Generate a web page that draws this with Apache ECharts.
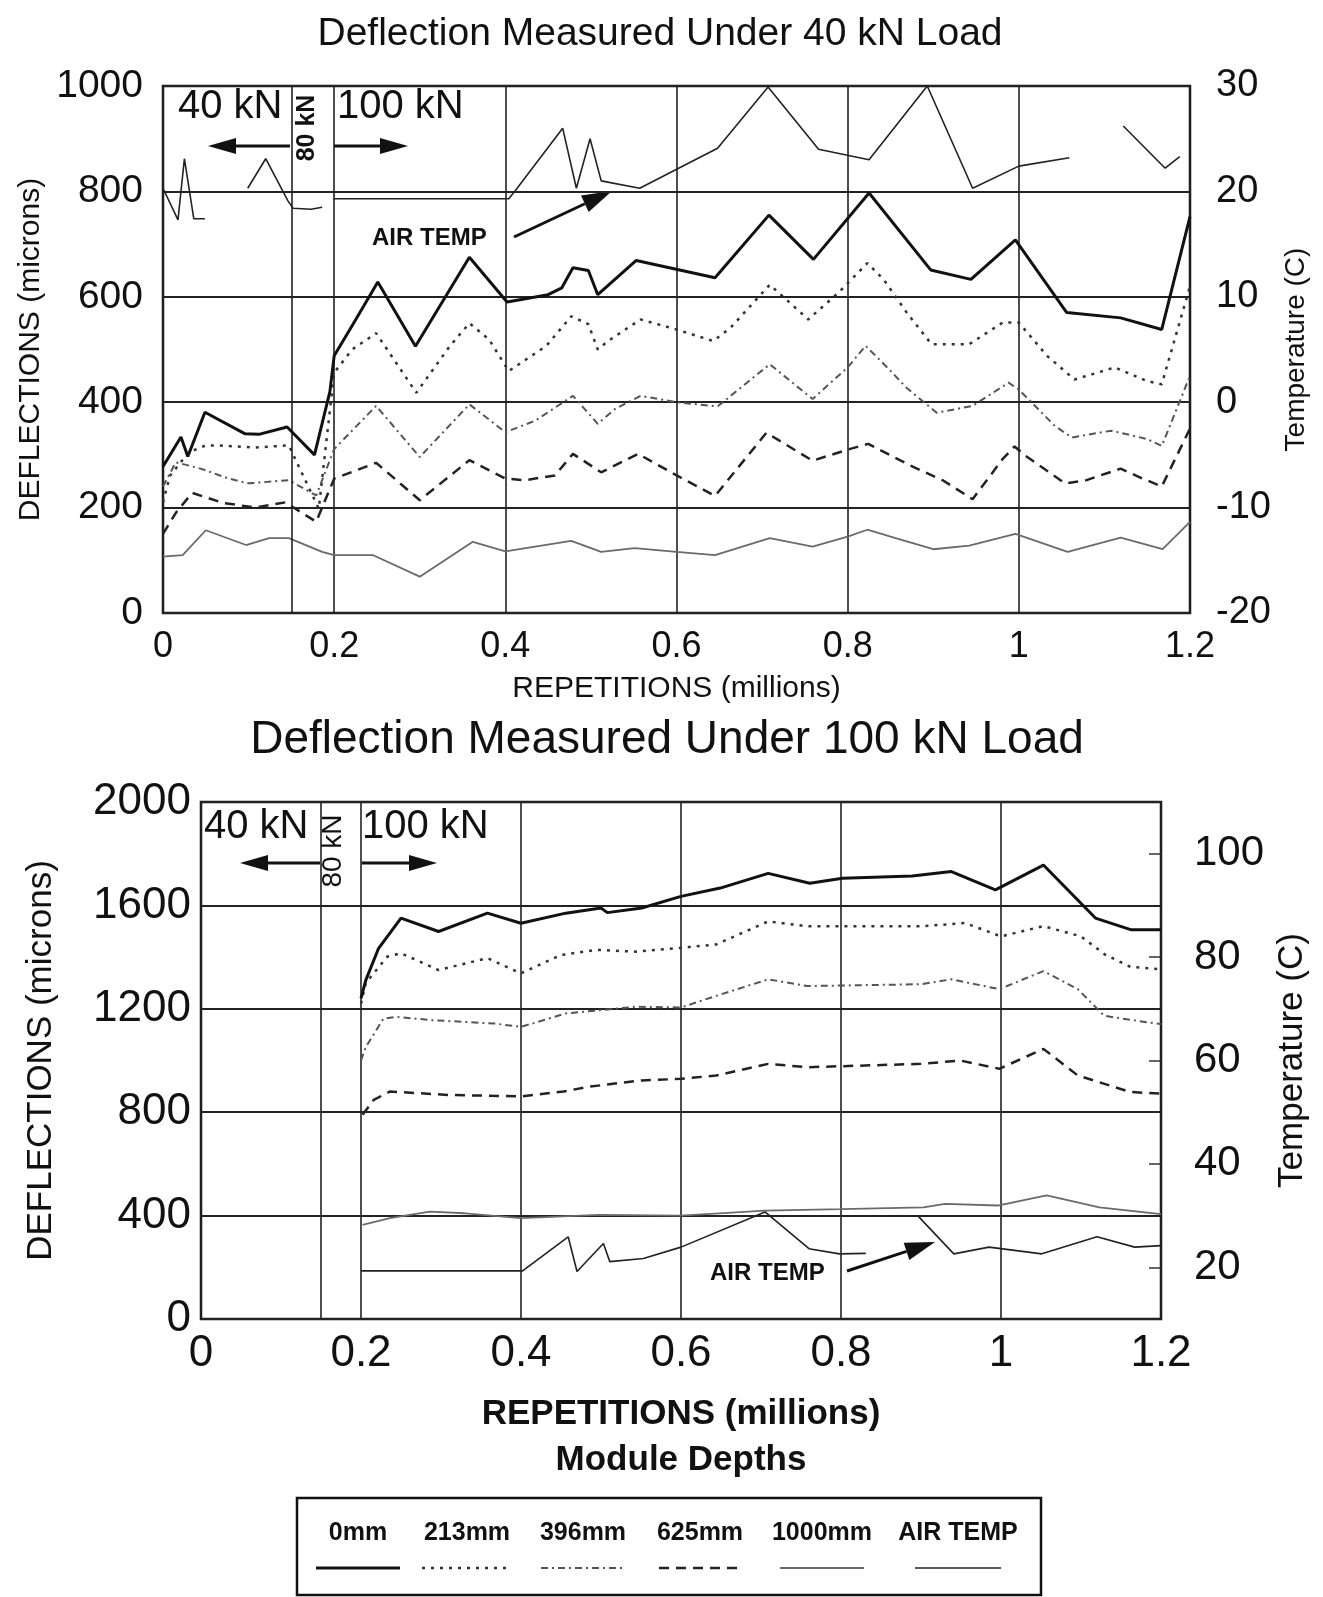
<!DOCTYPE html>
<html>
<head>
<meta charset="utf-8">
<title>Deflection vs Repetitions</title>
<script src="https://cdn.jsdelivr.net/npm/echarts@6/dist/echarts.min.js"></script>
<style>
  html, body { margin: 0; padding: 0; background: #fff; }
  #main { width: 1323px; height: 1597px; }
</style>
</head>
<body>
<div id="main"></div>
<script>
// shared
var loadBoundary = 0.15;   // 80 kN band begins, 100 kN at 0.2
var seriesNames = ['0mm', '213mm', '396mm', '625mm', '1000mm', 'AIR TEMP'];

// top chart: deflection under 40 kN load, [repetitions (millions), microns]
var top0mm = [[0,278],[0.021,334],[0.029,297],[0.049,381],[0.096,340],[0.112,339],[0.145,353],[0.177,300],[0.195,420],[0.2,488],[0.222,548],[0.251,628],[0.295,506],[0.358,675],[0.402,590],[0.45,604],[0.466,617],[0.479,655],[0.497,650],[0.508,604],[0.553,669],[0.645,636],[0.708,755],[0.76,671],[0.825,797],[0.897,651],[0.944,633],[0.996,708],[1.056,570],[1.119,560],[1.167,538],[1.2,752]];
var top213mm = [[0,210],[0.008,260],[0.03,305],[0.05,318],[0.062,318],[0.108,314],[0.147,318],[0.182,198],[0.2,456],[0.221,500],[0.249,531],[0.296,418],[0.335,506],[0.358,550],[0.381,519],[0.404,459],[0.448,507],[0.477,563],[0.497,548],[0.508,500],[0.52,516],[0.558,557],[0.6,538],[0.643,516],[0.663,541],[0.709,623],[0.754,557],[0.79,609],[0.823,664],[0.842,633],[0.869,570],[0.898,510],[0.942,510],[0.981,551],[1.0,551],[1.033,488],[1.065,443],[1.112,466],[1.15,440],[1.167,434],[1.2,620]];
var top396mm = [[0,240],[0.015,286],[0.044,274],[0.077,255],[0.1,246],[0.147,252],[0.179,223],[0.2,311],[0.249,393],[0.3,296],[0.358,396],[0.4,343],[0.435,365],[0.479,412],[0.508,359],[0.528,387],[0.558,412],[0.6,400],[0.648,392],[0.709,472],[0.759,406],[0.8,466],[0.821,507],[0.848,463],[0.869,427],[0.904,380],[0.946,393],[0.988,437],[1.0,424],[1.042,355],[1.062,333],[1.108,346],[1.15,330],[1.167,317],[1.2,450]];
var top625mm = [[0,150],[0.015,190],[0.034,228],[0.07,209],[0.108,200],[0.143,210],[0.179,173],[0.2,255],[0.249,285],[0.3,214],[0.358,290],[0.4,255],[0.423,252],[0.458,261],[0.479,302],[0.512,267],[0.555,302],[0.597,264],[0.645,222],[0.705,342],[0.759,289],[0.8,310],[0.824,321],[0.873,280],[0.912,251],[0.946,216],[0.981,292],[0.995,316],[1.008,298],[1.054,246],[1.077,251],[1.119,274],[1.142,257],[1.167,240],[1.2,350]];
var top1000mm = [[0,107],[0.023,110],[0.05,157],[0.097,129],[0.124,142],[0.147,142],[0.186,116],[0.2,110],[0.245,110],[0.3,69],[0.362,135],[0.4,117],[0.477,137],[0.512,116],[0.551,123],[0.6,116],[0.645,110],[0.709,142],[0.759,126],[0.8,145],[0.823,158],[0.856,142],[0.9,121],[0.942,128],[0.996,150],[1.057,116],[1.119,143],[1.168,121],[1.2,173]];
// air temperature, deg C (null = gap in record)
var topAirTemp = [[0,20.3],[0.0175,17.3],[0.025,23.1],[0.036,17.4],[0.049,17.4],[0.07,null],[0.099,20.3],[0.12,23.1],[0.146,19.1],[0.152,18.4],[0.173,18.3],[0.186,18.5],[0.193,null],[0.199,19.3],[0.404,19.3],[0.412,20.1],[0.467,26],[0.483,20.3],[0.499,25],[0.512,21],[0.557,20.3],[0.648,24.1],[0.707,29.9],[0.766,24],[0.825,23],[0.893,30],[0.946,20.3],[1.0,22.4],[1.059,23.2],[1.09,null],[1.122,26.2],[1.171,22.2],[1.188,23.3]];

// bottom chart: deflection under 100 kN load
var bot0mm = [[0.2,1240],[0.206,1311],[0.222,1434],[0.25,1551],[0.297,1499],[0.358,1570],[0.4,1531],[0.456,1570],[0.5,1590],[0.508,1572],[0.551,1590],[0.6,1635],[0.649,1667],[0.709,1724],[0.761,1686],[0.802,1705],[0.889,1714],[0.938,1731],[0.993,1660],[1.053,1756],[1.118,1551],[1.162,1506],[1.2,1506]];
var bot213mm = [[0.2,1220],[0.206,1300],[0.233,1402],[0.25,1415],[0.297,1350],[0.358,1396],[0.4,1337],[0.45,1408],[0.494,1428],[0.544,1421],[0.6,1436],[0.644,1449],[0.709,1538],[0.758,1519],[0.9,1519],[0.955,1532],[1.0,1480],[1.053,1520],[1.1,1480],[1.13,1410],[1.162,1362],[1.2,1353]];
var bot396mm = [[0.2,1000],[0.206,1052],[0.228,1162],[0.244,1169],[0.289,1156],[0.367,1143],[0.4,1130],[0.456,1182],[0.544,1208],[0.6,1205],[0.644,1250],[0.709,1314],[0.758,1288],[0.9,1295],[0.938,1314],[0.998,1276],[1.053,1346],[1.096,1276],[1.129,1173],[1.184,1147],[1.2,1141]];
var bot625mm = [[0.202,790],[0.216,848],[0.236,880],[0.308,867],[0.4,861],[0.453,880],[0.486,899],[0.551,923],[0.6,929],[0.644,942],[0.709,987],[0.758,974],[0.9,987],[0.949,1000],[0.998,968],[1.053,1045],[1.096,942],[1.162,878],[1.2,872]];
var bot1000mm = [[0.202,364],[0.236,390],[0.286,415],[0.33,409],[0.4,390],[0.497,403],[0.6,400],[0.705,419],[0.8,425],[0.903,432],[0.93,445],[0.996,439],[1.057,478],[1.123,432],[1.2,406]];
var botAirTemp = [[0.2,19.3],[0.402,19.3],[0.459,25.9],[0.47,19.2],[0.503,24.6],[0.511,21.1],[0.553,21.7],[0.6,23.9],[0.705,30.7],[0.76,23.6],[0.798,22.6],[0.831,22.7],[0.86,null],[0.897,29.8],[0.941,22.6],[0.985,23.9],[1.051,22.6],[1.12,25.9],[1.167,23.9],[1.2,24.2]];
var botTempTicks = [20, 40, 60, 80, 100];

var FONT = "'Liberation Sans', Arial, sans-serif";
var INK = '#111';

// line look per series (also used for the legend box)
var looks = {
  '0mm':      { color: '#111', width: 3,   type: 'solid' },
  '213mm':    { color: '#333', width: 2.5, type: [3, 6] },
  '396mm':    { color: '#555', width: 2,   type: [7, 4, 2, 4] },
  '625mm':    { color: '#222', width: 2.5, type: [10, 7] },
  '1000mm':   { color: '#6a6a6a', width: 1.8, type: 'solid' },
  'AIR TEMP': { color: '#222', width: 1.6, type: 'solid' }
};

function fmtX(v) { return String(Math.round(v * 10) / 10); }
function fmtY(v) { return String(v); }

function lineSeries(name, data, xi, yi) {
  var lk = looks[name];
  return {
    name: name, type: 'line', data: data,
    xAxisIndex: xi, yAxisIndex: yi,
    showSymbol: false, symbol: 'none', connectNulls: false,
    lineStyle: { color: lk.color, width: lk.width, type: lk.type },
    itemStyle: { color: lk.color },
    z: name === '0mm' ? 5 : 3
  };
}

function boundaryLine() {
  return {
    silent: true, symbol: ['none', 'none'], label: { show: false },
    lineStyle: { color: '#222', width: 1.6, type: 'solid' },
    data: [{ xAxis: loadBoundary }]
  };
}

function arrow(x1, y1, x2, y2, len, half, w) {
  var a = Math.atan2(y2 - y1, x2 - x1);
  var bx = x2 - len * Math.cos(a), by = y2 - len * Math.sin(a);
  var nx = -Math.sin(a) * half, ny = Math.cos(a) * half;
  return [
    { type: 'line', shape: { x1: x1, y1: y1, x2: bx, y2: by }, style: { stroke: INK, lineWidth: w } },
    { type: 'polygon', shape: { points: [[x2, y2], [bx + nx, by + ny], [bx - nx, by - ny]] }, style: { fill: INK } }
  ];
}

function label(text, x, y, size, weight, align, rot) {
  return {
    type: 'text', x: x, y: y, rotation: rot || 0,
    style: { text: text, x: 0, y: 0, fill: INK, fontSize: size, fontWeight: weight || 'normal',
             fontFamily: FONT, align: align || 'left', verticalAlign: 'middle' }
  };
}

var chart = echarts.init(document.getElementById('main'));

var series = [];
var topSets = [top0mm, top213mm, top396mm, top625mm, top1000mm];
var botSets = [bot0mm, bot213mm, bot396mm, bot625mm, bot1000mm];
for (var i = 0; i < 5; i++) {
  series.push(lineSeries(seriesNames[i], topSets[i], 0, 0));
}
series.push(lineSeries('AIR TEMP', topAirTemp, 0, 1));
for (var j = 0; j < 5; j++) {
  series.push(lineSeries(seriesNames[j], botSets[j], 1, 2));
}
series.push(lineSeries('AIR TEMP', botAirTemp, 1, 3));
series[4].markLine = boundaryLine();
series[10].markLine = boundaryLine();

// legend box, drawn by hand (labels over line samples)
var legendCx = [358, 467, 583, 700, 822, 958];
var legendW = [84, 90, 84, 82, 84, 86];
var graphics = [
  { type: 'rect', shape: { x: 297, y: 1498, width: 744, height: 97 },
    style: { fill: 'none', stroke: INK, lineWidth: 2.5 } }
];
seriesNames.forEach(function (n, k) {
  var lk = looks[n];
  graphics.push(label(n, legendCx[k], 1533, 25, 'bold', 'center'));
  graphics.push({ type: 'line',
    shape: { x1: legendCx[k] - legendW[k] / 2, y1: 1568, x2: legendCx[k] + legendW[k] / 2, y2: 1568 },
    style: { stroke: lk.color, lineWidth: lk.width, lineDash: lk.type === 'solid' ? null : lk.type } });
});

// load-stage notes, top chart
graphics.push(label('40 kN', 178, 107, 40));
graphics.push(label('100 kN', 337, 107, 40));
graphics.push(label('80 kN', 307, 128, 25, 'bold', 'center', Math.PI / 2));
graphics = graphics.concat(arrow(290, 146, 208, 146, 28, 8, 3));
graphics = graphics.concat(arrow(334, 146, 408, 146, 28, 8, 3));
graphics.push(label('AIR TEMP', 372, 238, 24, 'bold'));
graphics = graphics.concat(arrow(514, 237, 612, 191, 30, 9, 3));
// bottom chart
graphics.push(label('40 kN', 204, 827, 40));
graphics.push(label('100 kN', 362, 827, 40));
graphics.push(label('80 kN', 333, 851, 28, 'normal', 'center', Math.PI / 2));
graphics = graphics.concat(arrow(320, 863, 240, 863, 28, 8, 3));
graphics = graphics.concat(arrow(362, 863, 437, 863, 28, 8, 3));
graphics.push(label('AIR TEMP', 710, 1273, 24, 'bold'));
graphics = graphics.concat(arrow(847, 1271, 935, 1242, 30, 9, 3));

var tickText = function (size) { return { color: INK, fontSize: size, fontFamily: FONT }; };

var option = {
  animation: false,
  backgroundColor: '#fff',
  textStyle: { fontFamily: FONT, color: INK },
  title: [
    { text: 'Deflection Measured Under 40 kN Load', left: 655, textAlign: 'center', top: 10,
      textStyle: { fontSize: 39, fontWeight: 'normal', color: INK, fontFamily: FONT } },
    { text: 'Deflection Measured Under 100 kN Load', left: 662, textAlign: 'center', top: 712,
      textStyle: { fontSize: 46, fontWeight: 'normal', color: INK, fontFamily: FONT } }
  ],
  grid: [
    { left: 163, top: 86, width: 1027, height: 527, show: true, borderColor: INK, borderWidth: 2.5, backgroundColor: 'transparent' },
    { left: 201, top: 802, width: 960, height: 517, show: true, borderColor: INK, borderWidth: 2.5, backgroundColor: 'transparent' }
  ],
  xAxis: [
    { type: 'value', gridIndex: 0, min: 0, max: 1.2, interval: 0.2,
      axisLine: { show: false }, axisTick: { show: false },
      axisLabel: Object.assign(tickText(36), { margin: 16, formatter: fmtX, showMinLabel: true, showMaxLabel: true }),
      splitLine: { show: true, lineStyle: { color: '#222', width: 1.6 } },
      name: 'REPETITIONS (millions)', nameLocation: 'middle', nameGap: 61,
      nameTextStyle: { fontSize: 30, color: INK, fontFamily: FONT } },
    { type: 'value', gridIndex: 1, min: 0, max: 1.2, interval: 0.2,
      axisLine: { show: false }, axisTick: { show: false },
      axisLabel: Object.assign(tickText(44), { margin: 13, formatter: fmtX, showMinLabel: true, showMaxLabel: true }),
      splitLine: { show: true, lineStyle: { color: '#222', width: 1.6 } },
      name: 'REPETITIONS (millions)\nModule Depths', nameLocation: 'middle', nameGap: 72,
      nameTextStyle: { fontSize: 35, fontWeight: 'bold', lineHeight: 46, color: INK, fontFamily: FONT } }
  ],
  yAxis: [
    { type: 'value', gridIndex: 0, position: 'left', min: 0, max: 1000, interval: 200,
      axisLine: { show: false }, axisTick: { show: false },
      axisLabel: Object.assign(tickText(39), { margin: 20, formatter: fmtY }),
      splitLine: { show: true, lineStyle: { color: '#222', width: 2 } },
      name: 'DEFLECTIONS (microns)', nameLocation: 'middle', nameRotate: 90, nameGap: 117,
      nameTextStyle: { fontSize: 30, color: INK, fontFamily: FONT } },
    { type: 'value', gridIndex: 0, position: 'right', min: -20, max: 30, interval: 10,
      axisLine: { show: false }, axisTick: { show: false },
      axisLabel: Object.assign(tickText(38), { margin: 26, formatter: fmtY }),
      splitLine: { show: false },
      name: 'Temperature (C)', nameLocation: 'middle', nameRotate: 90, nameGap: 80,
      nameTextStyle: { fontSize: 28, color: INK, fontFamily: FONT } },
    { type: 'value', gridIndex: 1, position: 'left', min: 0, max: 2000, interval: 400,
      axisLine: { show: false }, axisTick: { show: false },
      axisLabel: Object.assign(tickText(44), { margin: 10, formatter: fmtY }),
      splitLine: { show: true, lineStyle: { color: '#222', width: 2 } },
      name: 'DEFLECTIONS (microns)', nameLocation: 'middle', nameRotate: 90, nameGap: 142,
      nameTextStyle: { fontSize: 35, color: INK, fontFamily: FONT } },
    { type: 'value', gridIndex: 1, position: 'right', min: 10, max: 110,
      axisLine: { show: false },
      axisTick: { show: true, inside: true, length: 12, customValues: botTempTicks, lineStyle: { color: '#333', width: 1.5 } },
      axisLabel: Object.assign(tickText(42), { margin: 33, customValues: botTempTicks, formatter: fmtY }),
      splitLine: { show: false },
      name: 'Temperature (C)', nameLocation: 'middle', nameRotate: 90, nameGap: 113,
      nameTextStyle: { fontSize: 35, color: INK, fontFamily: FONT } }
  ],
  series: series,
  graphic: graphics
};

chart.setOption(option);
</script>
</body>
</html>
